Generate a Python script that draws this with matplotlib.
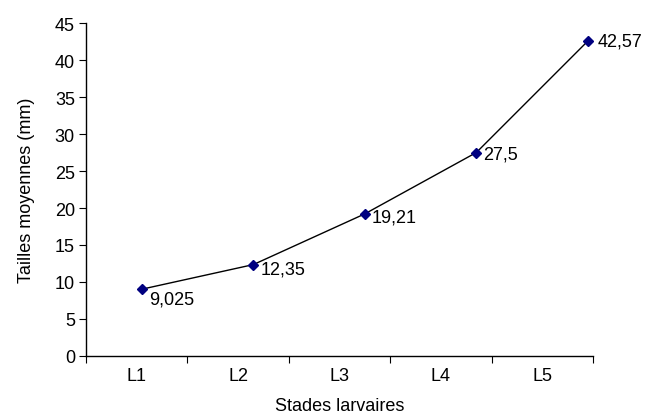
import numpy as np
import matplotlib.pyplot as plt

plt.rcParams['font.family'] = ['Liberation Sans', 'DejaVu Sans']

stades = ['L1', 'L2', 'L3', 'L4', 'L5']
tailles = [9.025, 12.35, 19.21, 27.5, 42.57]
etiquettes = ['9,025', '12,35', '19,21', '27,5', '42,57']

fig = plt.figure(figsize=(6.55, 4.14), dpi=100)
ax = fig.add_axes([0.1313, 0.1377, 0.774, 0.8043])

# points sit slightly off the category centres, as in the original
xpos = 0.55 + 1.1 * np.arange(len(stades))
ax.plot(xpos, tailles, color='black', lw=1, marker='D', ms=5,
        mfc='#000080', mec='#000080', zorder=3)

offs = [(5, -7), (5, -3), (5, -2), (5, -1), (7, 0)]
for x, y, t, o in zip(xpos, tailles, etiquettes, offs):
    ax.annotate(t, (x, y), xytext=o, textcoords='offset points',
                ha='left', va='center', fontsize=13)

ax.set_xlim(0, 5)
ax.set_ylim(0, 45)
ax.set_yticks(np.arange(0, 46, 5))
ax.set_xticks(np.arange(0, 6))
ax.set_xticklabels([])
ax.set_xticks(np.arange(0.5, 5), minor=True)
ax.set_xticklabels(stades, minor=True)
ax.tick_params(axis='x', which='minor', length=0, pad=8, labelsize=13)
ax.tick_params(axis='x', which='major', length=5, direction='out')
ax.tick_params(axis='y', length=5, direction='out', labelsize=13, pad=3)

for s in ['top', 'right']:
    ax.spines[s].set_visible(False)
for s in ['left', 'bottom']:
    ax.spines[s].set_linewidth(1)

ax.set_ylabel('Tailles moyennes (mm)', fontsize=13, labelpad=14)
ax.set_xlabel('Stades larvaires', fontsize=13, labelpad=9)

fig.savefig('out.png', dpi=100)
